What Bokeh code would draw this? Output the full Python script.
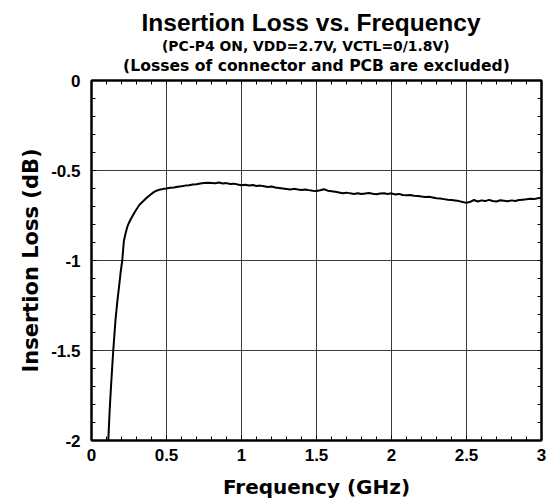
from bokeh.plotting import figure
from bokeh.models import Range1d, FixedTicker, LinearAxis, Title
from bokeh.embed import file_html
from bokeh.resources import INLINE

# ---- data ----
freq_ghz = [0.112, 0.120, 0.130, 0.145, 0.160, 0.172, 0.183, 0.195, 0.205, 0.216,
            0.227, 0.238, 0.250, 0.265, 0.282, 0.300, 0.320, 0.349, 0.370, 0.390,
            0.415, 0.437, 0.460, 0.480,
            0.500, 0.525, 0.550, 0.575, 0.600, 0.625, 0.650, 0.675, 0.700, 0.725,
            0.750, 0.775, 0.800, 0.825, 0.850, 0.875, 0.900, 0.925, 0.950, 0.975,
            1.000, 1.025, 1.050, 1.075, 1.100, 1.125, 1.150, 1.175, 1.200, 1.225,
            1.250, 1.275, 1.300, 1.325, 1.350, 1.375, 1.400, 1.425, 1.450, 1.475,
            1.500, 1.525, 1.550, 1.575, 1.600, 1.625, 1.650, 1.675, 1.700, 1.725,
            1.750, 1.775, 1.800, 1.825, 1.850, 1.875, 1.900, 1.925, 1.950, 1.975,
            2.000, 2.025, 2.050, 2.075, 2.100, 2.125, 2.150, 2.175, 2.200, 2.225,
            2.250, 2.275, 2.300, 2.325, 2.350, 2.375, 2.400, 2.425, 2.450, 2.475,
            2.500, 2.525, 2.550, 2.575, 2.600, 2.625, 2.650, 2.675, 2.700, 2.725,
            2.750, 2.775, 2.800, 2.825, 2.850, 2.875, 2.900, 2.925, 2.950, 2.975,
            3.000]
insertion_loss_db = [-2.00, -1.85, -1.70, -1.50, -1.33, -1.23, -1.15, -1.06, -1.00, -0.89,
                     -0.85, -0.815, -0.79, -0.765, -0.74, -0.715, -0.69, -0.667, -0.65, -0.636,
                     -0.620, -0.611, -0.605, -0.602,
                     -0.600, -0.596, -0.594, -0.590, -0.588, -0.584, -0.582, -0.578, -0.576, -0.572,
                     -0.570, -0.568, -0.569, -0.571, -0.567, -0.572, -0.570, -0.575, -0.573, -0.578,
                     -0.582, -0.579, -0.583, -0.581, -0.586, -0.584, -0.588, -0.592, -0.589, -0.594,
                     -0.597, -0.600, -0.603, -0.606, -0.602, -0.605, -0.608, -0.605, -0.609, -0.612,
                     -0.614, -0.610, -0.604, -0.612, -0.615, -0.618, -0.622, -0.626, -0.623, -0.627,
                     -0.630, -0.626, -0.631, -0.628, -0.625, -0.629, -0.632, -0.628, -0.626, -0.630,
                     -0.627, -0.633, -0.630, -0.636, -0.638, -0.636, -0.640, -0.642, -0.645, -0.647,
                     -0.646, -0.650, -0.654, -0.656, -0.659, -0.662, -0.664, -0.667, -0.670, -0.675,
                     -0.680, -0.674, -0.664, -0.672, -0.666, -0.670, -0.663, -0.669, -0.672, -0.665,
                     -0.668, -0.671, -0.666, -0.669, -0.664, -0.662, -0.660, -0.657, -0.659, -0.654,
                     -0.652]

x_ticks = [0, 0.5, 1, 1.5, 2, 2.5, 3]
x_tick_labels = ["0", "0.5", "1", "1.5", "2", "2.5", "3"]
y_ticks = [0, -0.5, -1, -1.5, -2]
y_tick_labels = ["0", "-0.5", "-1", "-1.5", "-2"]
x_minor = [i / 10 for i in range(0, 31)]
y_minor = [-i / 10 for i in range(0, 21)]

title_main = "Insertion Loss vs. Frequency"
title_sub1 = "(PC-P4 ON, VDD=2.7V, VCTL=0/1.8V)"
title_sub2 = "(Losses of connector and PCB are excluded)"
x_label = "Frequency (GHz)"
y_label = "Insertion Loss (dB)"

FONT = "Liberation Sans"
WIDE = "DejaVu Sans"

p = figure(width=549, height=504, output_backend="svg", toolbar_location=None,
           x_range=Range1d(0, 3), y_range=Range1d(-2, 0),
           min_border_left=91, min_border_right=8, min_border_top=80, min_border_bottom=64,
           x_axis_label=x_label, y_axis_label=y_label)

p.background_fill_color = "white"
p.border_fill_color = "white"
p.outline_line_color = "black"
p.outline_line_width = 2

for ax in [p.xaxis[0], p.yaxis[0]]:
    ax.axis_line_width = 2
    ax.axis_line_color = "black"
    ax.major_tick_in = 5
    ax.major_tick_out = 0
    ax.minor_tick_in = 4
    ax.minor_tick_out = 0
    ax.major_tick_line_color = "black"
    ax.minor_tick_line_color = "black"
    ax.major_label_text_font = FONT
    ax.major_label_text_font_size = "17px"
    ax.major_label_text_font_style = "bold"
    ax.major_label_text_color = "black"
    ax.axis_label_text_font = WIDE
    ax.axis_label_text_font_style = "bold"
    ax.axis_label_text_color = "black"

p.xaxis[0].ticker = FixedTicker(ticks=x_ticks, minor_ticks=x_minor)
p.yaxis[0].ticker = FixedTicker(ticks=y_ticks, minor_ticks=y_minor)
p.xaxis[0].major_label_overrides = dict(zip(x_ticks, x_tick_labels))
p.yaxis[0].major_label_overrides = dict(zip(y_ticks, y_tick_labels))
p.xaxis[0].axis_label_text_font_size = "20px"
p.yaxis[0].axis_label_text_font_size = "21px"
p.xaxis[0].major_label_standoff = 8
p.yaxis[0].major_label_standoff = 11
p.xaxis[0].axis_label_standoff = 11
p.yaxis[0].axis_label_standoff = 5

# minor ticks only on top and right (no labels); top axis added first = next to the frame
for loc, mn in [("above", x_minor), ("right", y_minor)]:
    a = LinearAxis(ticker=FixedTicker(ticks=[], minor_ticks=mn))
    a.major_label_standoff = 0
    a.axis_line_width = 2
    a.major_tick_out = 0
    a.minor_tick_in = 4
    a.minor_tick_out = 0
    p.add_layout(a, loc)

# titles: stacked outward from the frame in the order they are added
p.add_layout(Title(text=title_sub2, align="center", text_font=WIDE, text_font_size="15.6px",
                   text_font_style="bold", text_color="black", standoff=11.2), "above")
p.add_layout(Title(text=title_sub1, align="left", offset=70.5, text_font=WIDE,
                   text_font_size="13.9px", text_font_style="bold", text_color="black",
                   standoff=-9.4), "above")
p.title.text = title_main
p.title.align = "left"
p.title.offset = 50
p.title.text_font = FONT
p.title.text_font_size = "24.5px"
p.title.text_font_style = "bold"
p.title.text_color = "black"
p.title.standoff = 9.8

p.xgrid.ticker = FixedTicker(ticks=x_ticks)
p.ygrid.ticker = FixedTicker(ticks=y_ticks)
for g in [p.xgrid[0], p.ygrid[0]]:
    g.grid_line_color = "#3a3a3a"
    g.grid_line_width = 1
    g.grid_line_alpha = 1.0

p.line(freq_ghz, insertion_loss_db, line_color="black", line_width=2)

open("out.html", "w").write(file_html(p, INLINE))
